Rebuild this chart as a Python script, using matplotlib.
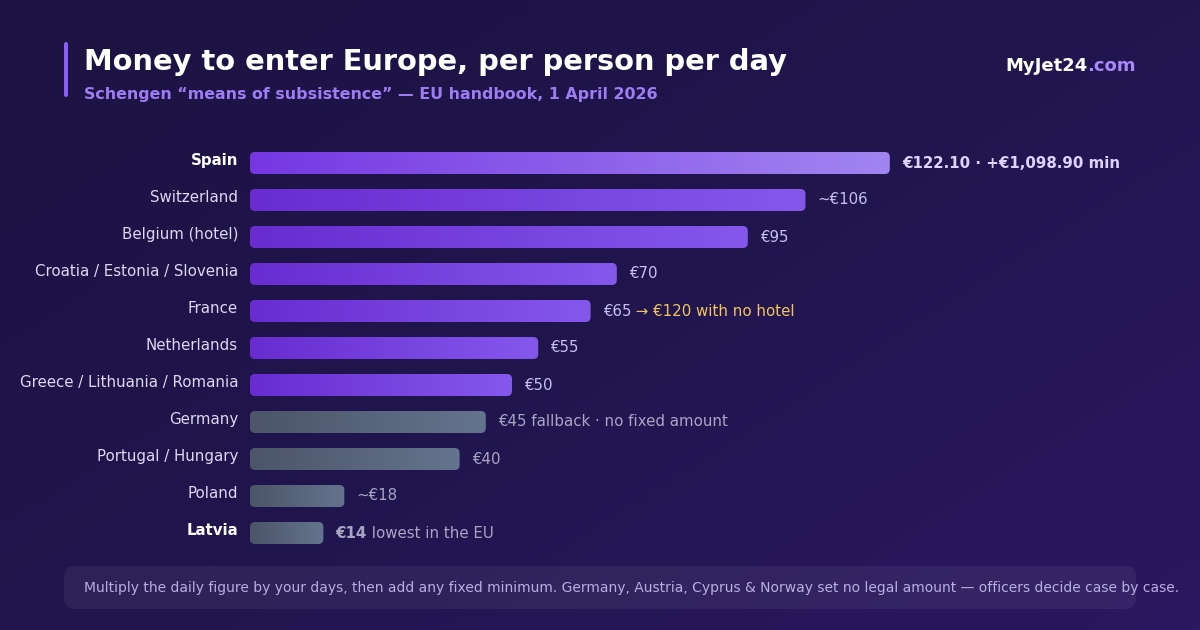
import numpy as np
import matplotlib
matplotlib.use("Agg")
import matplotlib.pyplot as plt
from matplotlib.patches import FancyBboxPatch
from matplotlib.colors import LinearSegmentedColormap

plt.rcParams["font.family"] = ["DejaVu Sans"]

countries = ["Spain", "Switzerland", "Belgium (hotel)", "Croatia / Estonia / Slovenia", "France",
             "Netherlands", "Greece / Lithuania / Romania", "Germany", "Portugal / Hungary",
             "Poland", "Latvia"]
values = [122.10, 106, 95, 70, 65, 55, 50, 45, 40, 18, 14]
labels = ["€122.10 · +€1,098.90 min", "~€106", "€95", "€70", "€65", "€55", "€50",
          "€45 fallback · no fixed amount", "€40", "~€18", "€14"]
extra = {4: " → €120 with no hotel", 10: " lowest in the EU"}
no_fixed = [False, False, False, False, False, False, False, True, True, True, True]
bold_rows = [0, 10]

W, H = 1200, 630
PX_PER_EUR = 5.24
fig = plt.figure(figsize=(12, 6.3), dpi=100)

# background gradient
bg = fig.add_axes([0, 0, 1, 1])
yy, xx = np.mgrid[0:1:200j, 0:1:200j]
grad = 0.55 * xx + 0.45 * yy
bg_cmap = LinearSegmentedColormap.from_list("bg", ["#1c1342", "#21154e", "#2b1860"])
bg.imshow(grad, cmap=bg_cmap, extent=[0, 1, 0, 1], aspect="auto", origin="upper")
bg.set_xlim(0, 1); bg.set_ylim(0, 1); bg.axis("off")

def fx(px): return px / W
def fy(py): return 1 - py / H

# accent bar + titles
bg.add_patch(FancyBboxPatch((fx(64), fy(97)), fx(4), 55 / H, boxstyle="round,pad=0,rounding_size=0.0017",
                            mutation_aspect=W / H, fc="#8b5cf6", ec="none"))
bg.text(fx(84), fy(62), "Money to enter Europe, per person per day", fontsize=20.8, fontweight="bold",
        color="white", va="center", ha="left")
bg.text(fx(84), fy(94), "Schengen “means of subsistence” — EU handbook, 1 April 2026", fontsize=11.48,
        fontweight="bold", color="#9d7df2", va="center", ha="left")
t = bg.text(fx(1005), fy(66), "MyJet24", fontsize=13, fontweight="bold", color="white", va="center", ha="left")
bg.annotate(".com", xy=(1, 0), xycoords=t, va="bottom", ha="left", fontsize=13, fontweight="bold",
            color="#a78bfa")

# footer
bg.add_patch(FancyBboxPatch((fx(64), fy(609)), fx(1072), 43 / H, boxstyle="round,pad=0,rounding_size=0.009",
                            mutation_aspect=W / H, fc="#ffffff", alpha=0.06, ec="none"))
bg.text(fx(84), fy(588), "Multiply the daily figure by your days, then add any fixed minimum. Germany, Austria, "
        "Cyprus & Norway set no legal amount — officers decide case by case.", fontsize=10.03,
        color="#b9aee0", va="center", ha="left")

# bars
ax = fig.add_axes([fx(250), fy(551.5), fx(950), 407 / H])
ax.patch.set_alpha(0)
xmax = 950 / PX_PER_EUR
h = 22 / 37
rx = 5 / PX_PER_EUR
ramp = np.linspace(0, 1, 256).reshape(1, -1)
for i, (name, v, lab) in enumerate(zip(countries, values, labels)):
    if no_fixed[i]:
        cols = ["#4f596b", "#697a92"]
    elif i == 0:
        cols = ["#7c3aed", "#a98cfb"]
    else:
        cols = ["#6d2ed9", "#8b5cf6"]
    cmap = LinearSegmentedColormap.from_list(f"b{i}", cols)
    patch = FancyBboxPatch((0, i - h / 2), v, h, boxstyle=f"round,pad=0,rounding_size={rx}",
                           mutation_aspect=(5 / 37) / rx, fc="none", ec="none")
    ax.add_patch(patch)
    im = ax.imshow(ramp, cmap=cmap, extent=[0, v, i + h / 2, i - h / 2], aspect="auto", alpha=0.95)
    im.set_clip_path(patch)

    bold = i in bold_rows
    ax.text(-12 / PX_PER_EUR, i - 0.08, name, ha="right", va="center", fontsize=10.8,
            fontweight="bold" if bold else "normal", color="white" if bold else "#ddd8f0")

    lx = v + 12 / PX_PER_EUR
    if i == 0:
        ax.text(lx, i, lab, ha="left", va="center", fontsize=10.8, fontweight="bold", color="#ddd3ff")
    else:
        c = "#a9a6c4" if no_fixed[i] else "#c7bff0"
        tt = ax.text(lx, i, lab, ha="left", va="center", fontsize=10.8, color=c,
                     fontweight="bold" if i == 10 else "normal")
        if i in extra:
            ec = "#f2c55c" if i == 4 else "#a9a6c4"
            ax.annotate(extra[i], xy=(1, 0), xycoords=tt, ha="left", va="bottom", fontsize=10.8, color=ec)

ax.set_xlim(0, xmax)
ax.set_ylim(10.5, -0.5)
ax.axis("off")

fig.savefig("out.png", dpi=100)
